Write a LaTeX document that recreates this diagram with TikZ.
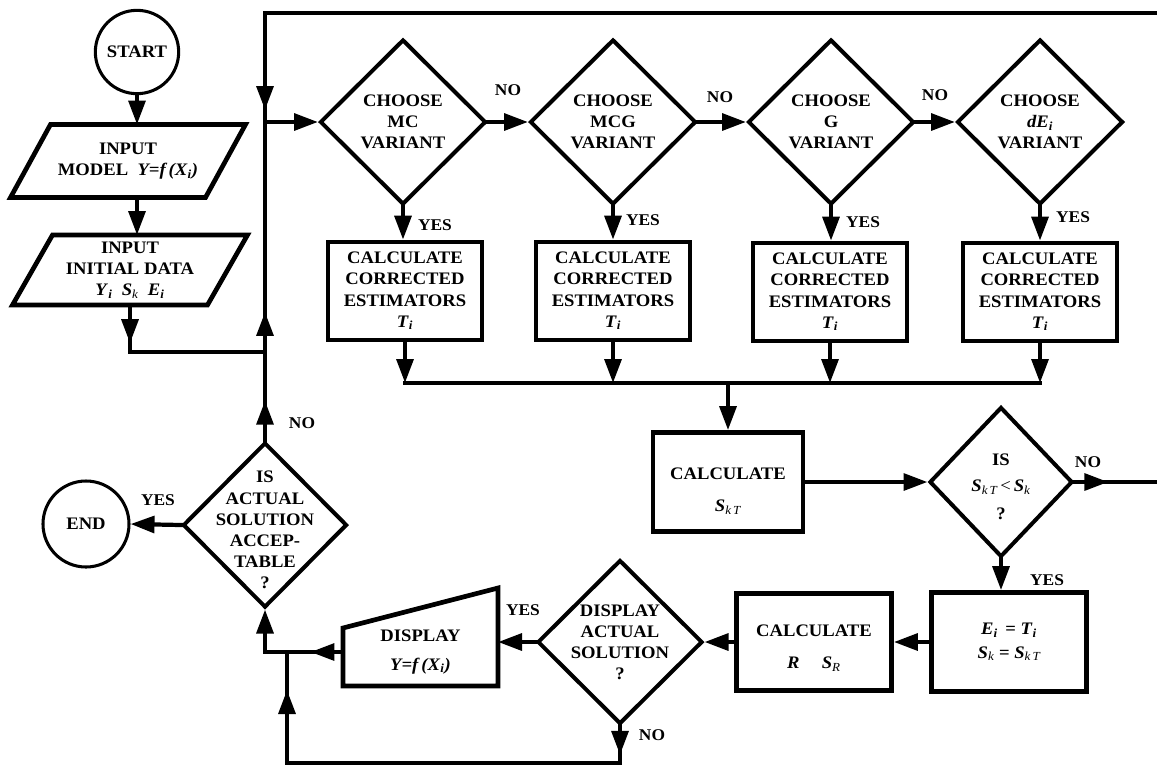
\documentclass[tikz,border=0pt]{standalone}
\usepackage{fontspec}
\setmainfont{Liberation Serif}[FakeStretch=1.06]
\usetikzlibrary{shapes.geometric,arrows.meta,decorations.markings,calc}
\newcommand{\bi}[1]{\textbf{\textit{#1}}}
\newcommand{\subb}[1]{\textsubscript{\textbf{\textit{#1}}}}
\newcommand{\subl}[1]{\textsubscript{\mdseries\itshape #1}}
\begin{document}
\begin{tikzpicture}[x=0.03cm, y=-0.03cm,
  font=\fontsize{15}{18}\selectfont\bfseries,
  >={Triangle[length=0.72cm,width=0.5cm]},
  conn/.style={line width=3.6pt, line cap=rect},
  tipped/.style={conn,->},
  marr/.style={postaction={decorate},decoration={markings,mark=at position #1 with {\arrow{>}}}},
  boxn/.style={draw, line width=4pt, minimum width=4.62cm, minimum height=2.94cm, align=center, inner sep=0pt},
  dia/.style={draw, diamond, line width=3.4pt, minimum width=4.98cm, minimum height=4.95cm, inner sep=0pt},
  txt/.style={align=center, inner sep=0pt},
  lab/.style={font=\fontsize{14}{16}\selectfont\bfseries, inner sep=0pt},
  term/.style={draw, circle, line width=2.6pt, inner sep=0pt},
  ghost/.style={inner sep=0pt, outer sep=0pt, align=center},
  outl/.style={line width=4pt, line join=miter},
]
\useasboundingbox (0,0) rectangle (1157,770);

% ---------- left column ----------
\node[term, minimum size=2.5cm] (start) at (137,52) {START};
\node[ghost, minimum width=5.85cm, minimum height=2.19cm] (in1) at (128,161)
  {INPUT\\MODEL\ \ \bi{Y=f\,(X}\subb{i}\bi{)}};
\draw[outl] ($(in1.north west)+(20,0)$) -- ($(in1.north east)+(20,0)$)
  -- ($(in1.south east)+(-20,0)$) -- ($(in1.south west)+(-20,0)$) -- cycle;
\node[ghost, minimum width=5.85cm, minimum height=2.1cm] (in2) at (130,270)
  {INPUT\\INITIAL DATA\\\bi{Y}\subb{i}\ \ \bi{S}\subl{k}\ \ \bi{E}\subb{i}};
\draw[outl] ($(in2.north west)+(20,0)$) -- ($(in2.north east)+(20,0)$)
  -- ($(in2.south east)+(-20,0)$) -- ($(in2.south west)+(-20,0)$) -- cycle;

% ---------- top row ----------
\node[dia] (d1) at (403,122) {};
\node[txt] (d1t) at (d1) {CHOOSE\\MC\\VARIANT};
\node[dia] (d2) at (613,122) {};
\node[txt] (d2t) at (d2) {CHOOSE\\MCG\\VARIANT};
\node[dia] (d3) at (831,122) {};
\node[txt] (d3t) at (d3) {CHOOSE\\G\\VARIANT};
\node[dia] (d4) at (1040,122) {};
\node[txt] (d4t) at (d4) {CHOOSE\\\bi{dE}\subb{i}\\VARIANT};

\node[boxn] (b1) at (405,291) {CALCULATE\\CORRECTED\\ESTIMATORS\\\bi{T}\subb{i}};
\node[boxn] (b2) at (613,291) {CALCULATE\\CORRECTED\\ESTIMATORS\\\bi{T}\subb{i}};
\node[boxn] (b3) at (830,292) {CALCULATE\\CORRECTED\\ESTIMATORS\\\bi{T}\subb{i}};
\node[boxn] (b4) at (1040,292) {CALCULATE\\CORRECTED\\ESTIMATORS\\\bi{T}\subb{i}};

% ---------- middle ----------
\node[boxn, minimum width=4.5cm, minimum height=2.97cm] (skt) at (728,482) {};
\node[txt] (sktt) at ($(skt)+(0,9)$) {CALCULATE\\[10pt]\bi{S}\subl{k\,T}};
\node[draw, diamond, line width=3.4pt, inner sep=0pt, minimum width=4.29cm, minimum height=4.5cm] (isd) at (1001,482) {};
\node[txt] (isdt) at ($(isd)+(0,5)$) {IS\\[4pt]\bi{S}\subl{k\,T}\,{\mdseries<}\,\bi{S}\subl{k}\\[6pt]?};

\node[boxn, minimum width=4.65cm, minimum height=2.97cm] (ebox) at (1009,642)
  {\bi{E}\subb{i}\ \,= \bi{T}\subb{i}\\[2pt]\bi{S}\subl{k} = \bi{S}\subl{k\,T}};
\node[boxn, minimum width=4.65cm, minimum height=2.91cm] (rbox) at (814,642) {};
\node[txt] (rboxt) at ($(rbox)+(0,6)$) {CALCULATE\\[10pt]\bi{R}\quad\ \bi{S}\subl{R}};

\node[dia, minimum width=4.95cm, minimum height=4.92cm] (dd) at (620,642) {};
\node[txt] (ddt) at (dd) {DISPLAY\\ACTUAL\\SOLUTION\\?};

\node[ghost, minimum width=4.65cm, minimum height=2.04cm] (disp) at (420.5,652)
  {DISPLAY\\[6pt]\bi{Y=f\,(X}\subb{i}\bi{)}};
\draw[outl] (disp.south west) -- (disp.south east) -- ($(disp.north east)+(0,-30)$)
  -- ($(disp.north west)+(0,10)$) -- cycle;

\node[dia, minimum width=4.92cm, minimum height=4.95cm] (iad) at (265,525) {};
\node[txt] (iadt) at ($(iad)+(0,5)$) {IS\\ACTUAL\\SOLUTION\\ACCEP-\\TABLE\\?};
\node[term, minimum size=2.58cm] (endc) at (86,524) {END};

% ---------- coordinates ----------
\coordinate (topL) at (265,13);
\coordinate (topR) at (1157,13);
\coordinate (j1) at (265,122);
\coordinate (j2) at (265,352);
\coordinate (coll) at (728,383);
\coordinate (exitR) at (1157,482);
\coordinate (bl) at (287,763);

% ---------- connectors ----------
\draw[tipped] (start.south) -- (start.south |- in1.north);
\draw[tipped] (start.south |- in1.south) -- (start.south |- in2.north);
\draw[conn, marr=0.21] (in2.south) -- (in2.south |- j2) -- (j2);
\draw[conn, marr=0.988] (topR) -- (topL) -- (j1);
\draw[conn, marr=0.174] (j2) -- (j1);
\draw[conn, marr=0.45] (iad.north) -- (j2);
\draw[tipped] (j1) -- (d1.west);

\draw[tipped] (d1.east) -- (d2.west);
\draw[tipped] (d2.east) -- (d3.west);
\draw[tipped] (d3.east) -- (d4.west);
\foreach \i in {1,2,3,4}{
  \draw[tipped] (d\i.south) -- (d\i.south |- b\i.north);
  \draw[tipped] (b\i.south) -- (b\i.south |- coll);
}
\draw[conn] (b1.south |- coll) -- (b4.south |- coll);
\draw[tipped] (coll) -- (skt.north);
\draw[tipped] (skt.east) -- (isd.west);
\draw[conn, marr=0.41] (isd.east) -- (exitR);
\draw[tipped] (isd.south) -- (isd.south |- ebox.north);
\draw[tipped] (ebox.west) -- (rbox.east);
\draw[tipped] (rbox.west) -- (dd.east);
\draw[tipped] (dd.west) -- (dd.west -| disp.east);
\draw[conn, marr=0.27, ->] (disp.west) -- (iad.south |- disp.west) -- (iad.south);
\draw[conn, postaction={decorate}, decoration={markings,
    mark=at position 0.06 with {\arrow{>}},
    mark=at position 0.921 with {\arrow{>}}}]
  (dd.south) -- (dd.south |- bl) -- (bl) -- (bl |- disp.west);
\draw[tipped] (iad.west) -- (endc.east);

% ---------- labels ----------
\node[lab] (y1) at (435,225) {YES};
\node[lab] (y2) at (643,220) {YES};
\node[lab] (y3) at (863,222) {YES};
\node[lab] (y4) at (1073,217) {YES};
\node[lab] (n1) at (508,90) {NO};
\node[lab] (n2) at (720,97) {NO};
\node[lab] (n3) at (935,95) {NO};
\node[lab] (n4) at (1088,462) {NO};
\node[lab] (y5) at (1047,580) {YES};
\node[lab] (y6) at (523,610) {YES};
\node[lab] (n5) at (652,735) {NO};
\node[lab] (n6) at (302,423) {NO};
\node[lab] (y7) at (158,500) {YES};
\end{tikzpicture}
\end{document}
